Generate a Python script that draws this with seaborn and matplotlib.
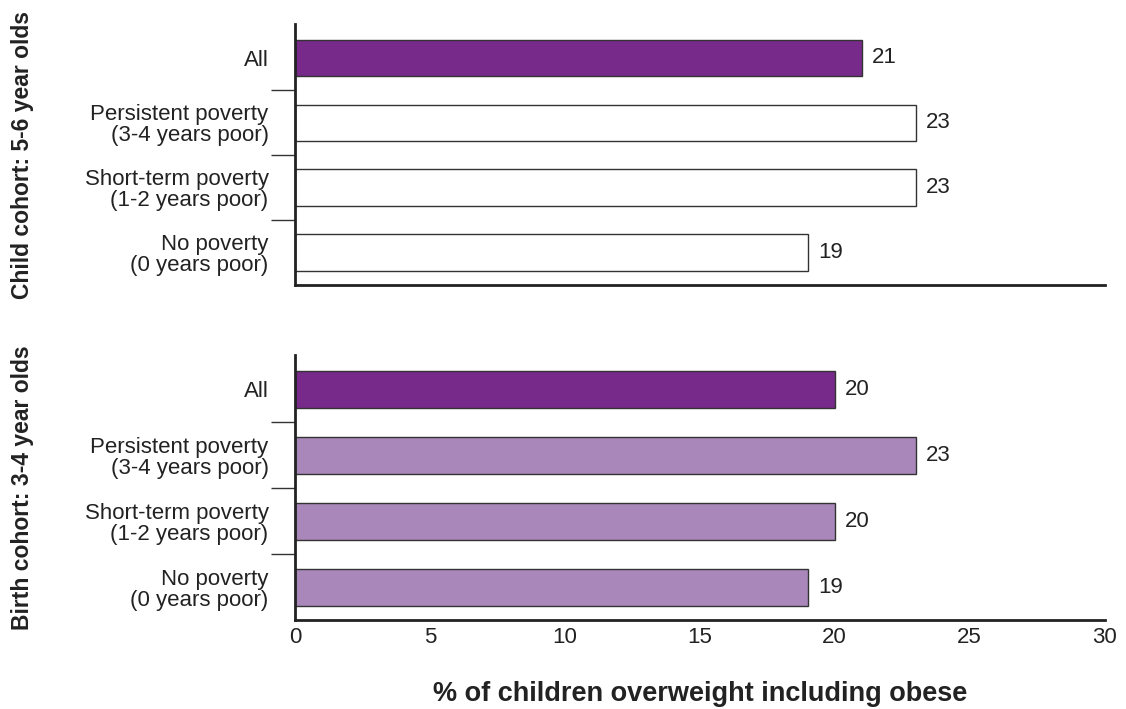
import pandas as pd
import matplotlib.pyplot as plt
import seaborn as sns

# Values
categories = ['All', 'Persistent poverty\n(3-4 years poor)',
              'Short-term poverty\n(1-2 years poor)', 'No poverty\n(0 years poor)']
child_values = [21, 23, 23, 19]
birth_values = [20, 23, 20, 19]
panel_titles = ['Child cohort: 5-6 year olds', 'Birth cohort: 3-4 year olds']
x_ticks = [0, 5, 10, 15, 20, 25, 30]

dark_purple = '#782A8A'
light_purple = '#A987BB'

sns.set_theme(style='white')
plt.rcParams['font.family'] = ['Liberation Sans', 'DejaVu Sans']

fig = plt.figure(figsize=(11.26, 7.09), dpi=100)
ax_top = fig.add_axes([0.262, 0.598, 0.719, 0.368])
ax_bot = fig.add_axes([0.262, 0.1255, 0.719, 0.374])


def draw_panel(ax, values, colors, title, show_x):
    df = pd.DataFrame({'group': categories, 'value': values})
    sns.barplot(data=df, x='value', y='group', hue='group', palette=colors,
                order=categories, legend=False, width=0.56, saturation=1,
                edgecolor='#333333', linewidth=1.0, ax=ax)
    for i, v in enumerate(values):
        ax.text(v + 0.85, i, f'{v}', va='center', ha='center',
                fontsize=16, color='#222222')
    ax.set_xlim(0, 30)
    ax.set_ylim(3.5, -0.52)
    ax.set_yticks(range(len(categories)))
    ax.set_yticklabels(categories, fontsize=16, color='#222222',
                       linespacing=1.0)
    ax.set_yticks([0.5, 1.5, 2.5], minor=True)
    ax.tick_params(axis='y', which='major', length=0, pad=19)
    ax.tick_params(axis='y', which='minor', length=17, width=1,
                   color='#333333', left=True)
    for side in ['top', 'right']:
        ax.spines[side].set_visible(False)
    for side in ['left', 'bottom']:
        ax.spines[side].set_color('#222222')
        ax.spines[side].set_linewidth(2)
    ax.set_ylabel(title, fontsize=16.5, fontweight='bold', color='#222222')
    ax.yaxis.set_label_coords(-0.322, 0.5)
    ax.set_xticks(x_ticks)
    ax.tick_params(axis='x', length=0, pad=5)
    if show_x:
        ax.set_xticklabels([str(t) for t in x_ticks], fontsize=16,
                           color='#222222')
        ax.set_xlabel('% of children overweight including obese',
                      fontsize=19.5, fontweight='bold', labelpad=24,
                      color='#222222')
    else:
        ax.set_xticklabels([])
        ax.set_xlabel('')


draw_panel(ax_top, child_values, [dark_purple, 'white', 'white', 'white'],
           panel_titles[0], False)
draw_panel(ax_bot, birth_values, [dark_purple, light_purple, light_purple, light_purple],
           panel_titles[1], True)

fig.savefig('out.png', dpi=100)
